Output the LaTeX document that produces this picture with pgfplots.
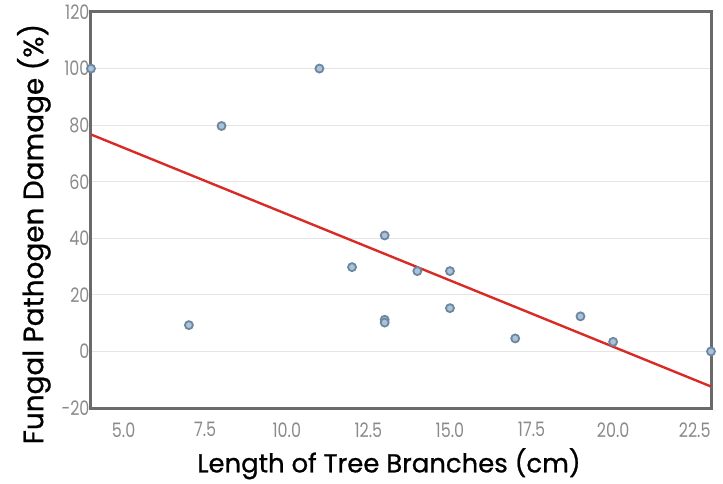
\documentclass[border=0pt]{standalone}
\usepackage{pgfplots}
\pgfplotsset{compat=1.18}
\usepackage{fontspec}
\setmainfont{Poppins}
\definecolor{ptfill}{HTML}{A9C3DA}
\definecolor{ptedge}{HTML}{6E879E}
\definecolor{regred}{HTML}{D92B26}
\definecolor{ticktext}{HTML}{8A8A8A}
\definecolor{framecol}{HTML}{6A6A6A}
\begin{document}
\begin{tikzpicture}
\begin{axis}[
  name=ax,
  scale only axis,
  width=620bp, height=396bp,
  xmin=4, xmax=23, ymin=-20, ymax=120,
  xtick={5,7.5,10,12.5,15,17.5,20,22.5},
  ytick={-20,0,20,40,60,80,100,120},
  xticklabel style={/pgf/number format/fixed,/pgf/number format/fixed zerofill,/pgf/number format/precision=1, yshift=-11bp},
  /pgf/number format/assume math mode=true,
  tick label style={font=\fontsize{20}{20}\selectfont\addfontfeatures{FakeStretch=0.8}, text=ticktext},
  yticklabel style={xshift=2bp},
  major tick length=0pt,
  ymajorgrids,
  grid style={draw=black!10, line width=1bp},
  axis line style={draw=framecol, line width=3bp},
  xlabel={Length of Tree Branches (cm)},
  ylabel={Fungal Pathogen Damage (\%)},
  xlabel style={font=\fontsize{26}{26}\selectfont\addfontfeatures{FakeBold=0.8}, yshift=-4bp, xshift=-12bp},
  ylabel style={font=\fontsize{28}{28}\selectfont\addfontfeatures{FakeBold=0.8}, yshift=4bp, xshift=-24bp},
  clip=false,
]
\addplot[regred, line width=2.4bp] coordinates {(4,76.7) (23,-12.4)};
\addplot[only marks, mark=*, mark size=4bp, mark options={fill=ptfill, draw=ptedge, line width=1.8bp}] coordinates {
(4,100) (7,9.3) (8,79.7) (11,100) (12,29.8) (13,41) (13,11.2) (13,10.2)
(14,28.4) (15,28.4) (15,15.3) (17,4.6) (19,12.4) (20,3.4) (23,0)
};
\end{axis}
\pgfresetboundingbox
\path ([xshift=-91bp,yshift=-76bp]ax.south west) rectangle ([xshift=12bp,yshift=12bp]ax.north east);
\end{tikzpicture}
\end{document}
